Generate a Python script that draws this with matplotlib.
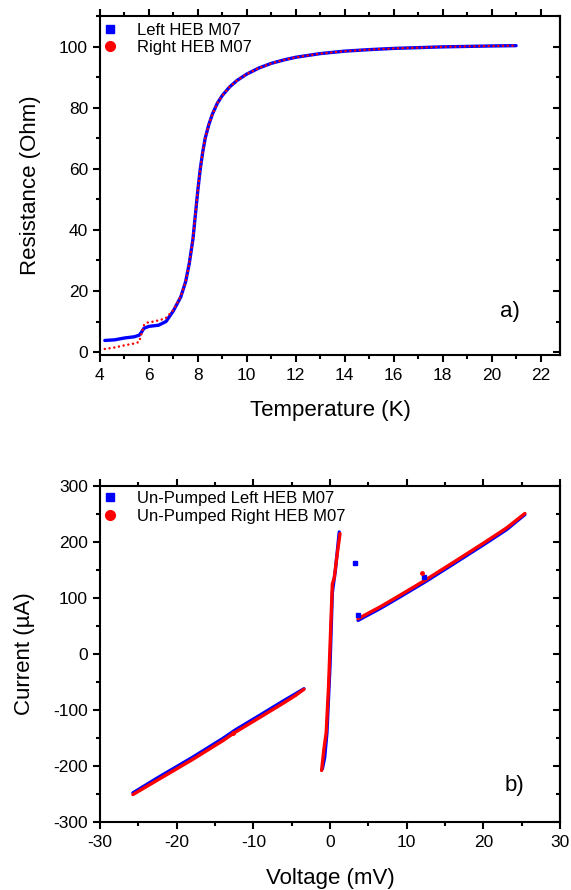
import matplotlib

matplotlib.use("Agg")
import matplotlib.pyplot as plt
import numpy as np
from matplotlib.lines import Line2D
from matplotlib.ticker import MultipleLocator

plt.rcParams["font.family"] = ["Liberation Sans", "DejaVu Sans"]
plt.rcParams["axes.unicode_minus"] = False

# panel a) R(T)
temp_left_k = [4.2, 4.6, 5.0, 5.4, 5.6, 5.7, 5.8, 6.0, 6.4, 6.7, 7.0, 7.3, 7.5, 7.65, 7.8,
               7.9, 8.0, 8.1, 8.2, 8.3, 8.45, 8.6, 8.8, 9.0, 9.3, 9.6, 10.0, 10.5, 11.0,
               11.5, 12.0, 13.0, 14.0, 15.0, 16.0, 18.0, 20.0, 21.0]
res_left_ohm = [3.8, 4.0, 4.6, 5.0, 5.5, 6.5, 7.8, 8.4, 8.8, 10.0, 13.5, 18.0, 23.0, 29.0, 37.0,
                45.0, 53.0, 60.0, 65.5, 70.0, 74.5, 78.0, 81.5, 84.0, 86.8, 88.9, 91.0, 93.0, 94.5,
                95.6, 96.5, 97.7, 98.5, 99.0, 99.4, 99.9, 100.2, 100.3]

temp_right_k = [4.2, 4.6, 5.0, 5.4, 5.6, 5.7, 5.8, 5.9, 6.2, 6.5, 6.7, 7.0, 7.3, 7.5, 7.65, 7.8,
                7.9, 8.0, 8.1, 8.2, 8.3, 8.45, 8.6, 8.8, 9.0, 9.3, 9.6, 10.0, 10.5, 11.0,
                11.5, 12.0, 13.0, 14.0, 15.0, 16.0, 18.0, 20.0, 21.0]
res_right_ohm = [1.0, 1.5, 2.2, 2.8, 3.3, 6.0, 8.8, 9.6, 10.0, 10.6, 11.2, 13.8, 18.2, 23.0, 29.0,
                 37.0, 45.0, 53.0, 60.0, 65.5, 70.0, 74.5, 78.0, 81.5, 84.0, 86.8, 88.9, 91.0,
                 93.0, 94.5, 95.6, 96.5, 97.7, 98.5, 99.0, 99.4, 99.9, 100.2, 100.3]

# panel b) I(V), branches separated by NaN
volt_left_mv = [-25.7, -22.6, -18.0, -14.0, -12.4, -9.0, -6.0, -4.5, -3.4, np.nan,
                -1.0, -0.7, -0.4, 0.0, 0.3, 0.7, 1.2, np.nan,
                3.65, 5.0, 6.5, 9.0, 12.3, 16.0, 20.0, 23.0, 25.4]
curr_left_ua = [-248, -222, -185, -151, -136, -108, -83, -71, -62, np.nan,
                -205, -185, -140, -20, 110, 150, 218, np.nan,
                60, 70, 81, 101, 128, 160, 195, 222, 249]
volt_right_mv = [-25.7, -22.6, -18.0, -14.0, -12.4, -9.0, -6.0, -4.5, -3.4, np.nan,
                 -1.1, -0.8, -0.5, -0.2, 0.3, 0.55, 0.9, 1.3, np.nan,
                 3.65, 5.0, 6.5, 9.0, 12.3, 16.0, 20.0, 23.0, 25.4]
curr_right_ua = [-251, -226, -189, -155, -140, -112, -87, -74, -63, np.nan,
                 -208, -170, -140, -60, 125, 136, 175, 215, np.nan,
                 63, 73, 84, 104, 131, 163, 198, 225, 251]

# stray single points
stray_left_v = [3.2, 3.7, 12.3]
stray_left_i = [162, 70, 138]
stray_right_v = [12.0, -12.6]
stray_right_i = [144, -141]

BLUE = "#0000ff"
RED = "#ff0000"


def style_axes(ax, xmajor, xminor, ymajor, yminor):
    for sp in ax.spines.values():
        sp.set_linewidth(1.5)
    ax.xaxis.set_major_locator(MultipleLocator(xmajor))
    ax.xaxis.set_minor_locator(MultipleLocator(xminor))
    ax.yaxis.set_major_locator(MultipleLocator(ymajor))
    ax.yaxis.set_minor_locator(MultipleLocator(yminor))
    ax.tick_params(which="both", direction="out", top=True, right=False, width=1.5, labelsize=12.5)
    ax.tick_params(which="major", length=5)
    ax.tick_params(which="minor", length=3)
    ax.tick_params(axis="x", pad=4.5)
    right = ax.secondary_yaxis("right")
    right.spines["right"].set_linewidth(1.5)
    right.yaxis.set_major_locator(MultipleLocator(ymajor))
    right.yaxis.set_minor_locator(MultipleLocator(yminor))
    right.tick_params(which="both", direction="in", width=1.5, labelright=False)
    right.tick_params(which="major", length=5)
    right.tick_params(which="minor", length=3)


def legend_handles(labels):
    return [
        Line2D([], [], color=BLUE, marker="s", linestyle="none", markersize=6, label=labels[0]),
        Line2D([], [], color=RED, marker="o", linestyle="none", markersize=7, label=labels[1]),
    ]


fig = plt.figure(figsize=(5.71, 8.90), dpi=100)
ax1 = fig.add_axes([0.175, 0.601, 0.806, 0.381])
ax2 = fig.add_axes([0.175, 0.0764, 0.806, 0.3775])

ax1.plot(temp_left_k, res_left_ohm, color=BLUE, lw=2.4, solid_capstyle="round")
ax1.plot(temp_right_k, res_right_ohm, color=RED, lw=1.8, linestyle=(0, (0.01, 1.9)),
         dash_capstyle="round")
ax1.set_xlim(4, 22.8)
ax1.set_ylim(-1, 110)
style_axes(ax1, 2, 1, 20, 10)
ax1.set_xlabel("Temperature (K)", fontsize=16)
ax1.set_ylabel("Resistance (Ohm)", fontsize=16)
ax1.xaxis.set_label_coords(0.5, -0.132)
ax1.yaxis.set_label_coords(-0.128, 0.5)
ax1.text(0.89, 0.13, "a)", transform=ax1.transAxes, fontsize=16, ha="center", va="center")
ax1.legend(handles=legend_handles(["Left HEB M07", "Right HEB M07"]), loc="upper left",
           bbox_to_anchor=(0.004, 0.98), frameon=False, fontsize=12, borderpad=0,
           borderaxespad=0, handlelength=1.0, handletextpad=1.1, labelspacing=0.15)

ax2.plot(volt_left_mv, curr_left_ua, color=BLUE, lw=2.4, solid_capstyle="round")
ax2.plot(volt_right_mv, curr_right_ua, color=RED, lw=2.4, solid_capstyle="round")
ax2.plot(stray_left_v, stray_left_i, "s", color=BLUE, markersize=2.2)
ax2.plot(stray_right_v, stray_right_i, "o", color=RED, markersize=2.5)
ax2.set_xlim(-30, 30)
ax2.set_ylim(-300, 300)
style_axes(ax2, 10, 5, 100, 50)
ax2.set_xlabel("Voltage (mV)", fontsize=16)
ax2.set_ylabel("Current (\u00b5A)", fontsize=16)
ax2.xaxis.set_label_coords(0.5, -0.137)
ax2.yaxis.set_label_coords(-0.14, 0.5)
ax2.text(0.90, 0.11, "b)", transform=ax2.transAxes, fontsize=16, ha="center", va="center")
ax2.legend(handles=legend_handles(["Un-Pumped Left HEB M07", "Un-Pumped Right HEB M07"]),
           loc="upper left", bbox_to_anchor=(0.004, 0.985), frameon=False, fontsize=12,
           borderpad=0, borderaxespad=0, handlelength=1.0, handletextpad=1.1, labelspacing=0.15)

fig.savefig("out.png", dpi=100)
plt.close(fig)
